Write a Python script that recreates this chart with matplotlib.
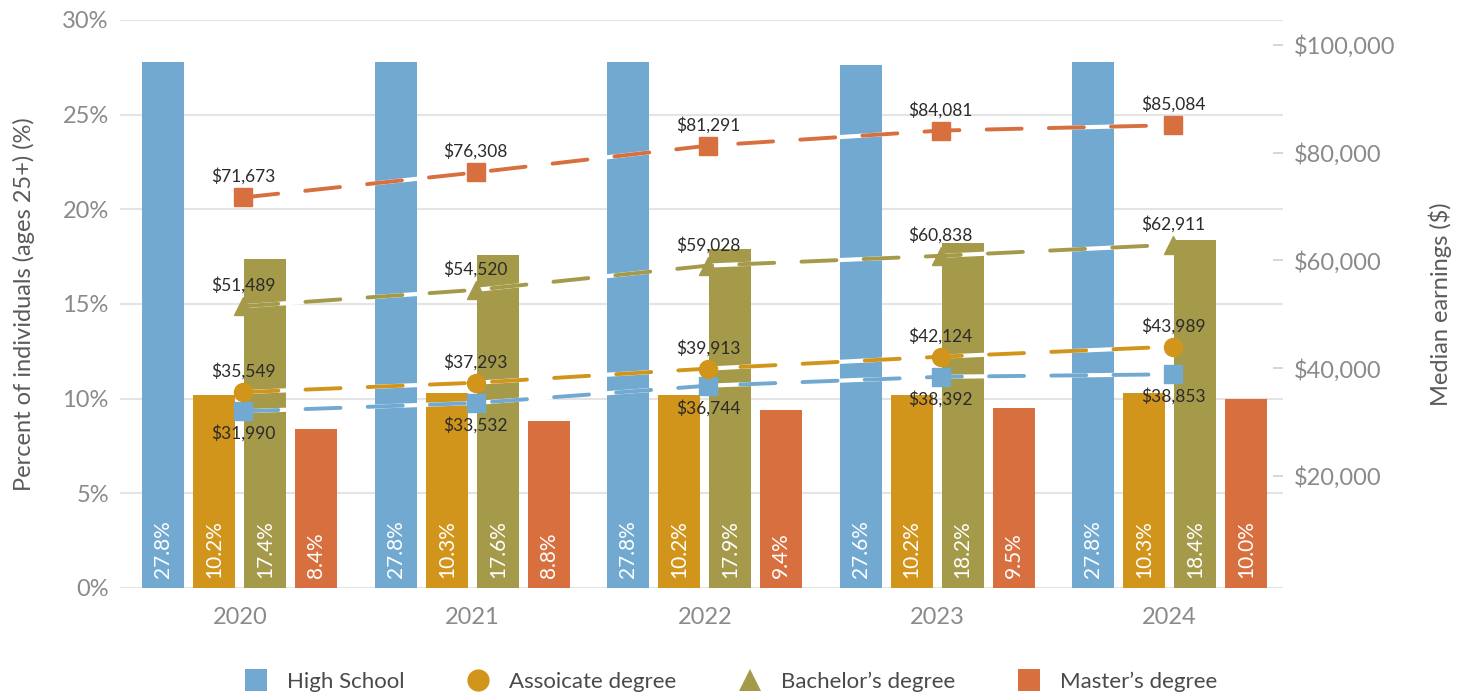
import numpy as np
import matplotlib.pyplot as plt
from matplotlib.lines import Line2D

plt.rcParams["font.family"] = ["Lato", "DejaVu Sans"]

years = ["2020", "2021", "2022", "2023", "2024"]
series = ["High School", "Assoicate degree", "Bachelor\u2019s degree", "Master\u2019s degree"]

share_hs = [27.8, 27.8, 27.8, 27.6, 27.8]
share_assoc = [10.2, 10.3, 10.2, 10.2, 10.3]
share_bach = [17.4, 17.6, 17.9, 18.2, 18.4]
share_master = [8.4, 8.8, 9.4, 9.5, 10.0]

earn_hs = [31990, 33532, 36744, 38392, 38853]
earn_assoc = [35549, 37293, 39913, 42124, 43989]
earn_bach = [51489, 54520, 59028, 60838, 62911]
earn_master = [71673, 76308, 81291, 84081, 85084]

COLORS = ["#72a9d0", "#d2951b", "#a59a49", "#d76f3f"]
MARKERS = ["s", "o", "^", "s"]
TICK_GRAY = "#8a8a8a"
LABEL_GRAY = "#5a5a5a"
TEXT_DARK = "#2b2b2b"

shares = [share_hs, share_assoc, share_bach, share_master]
earnings = [earn_hs, earn_assoc, earn_bach, earn_master]

fig = plt.figure(figsize=(14.68, 6.92), dpi=100)
ax = fig.add_axes([0.0817, 0.1503, 0.7923, 0.8208])
ax2 = ax.twinx()

x = np.arange(len(years))
width = 0.181
step = 0.2195

for i, (vals, color) in enumerate(zip(shares, COLORS)):
    pos = x + (i - 1.5) * step
    ax.bar(pos, vals, width=width, color=color, zorder=2)
    for p, v in zip(pos, vals):
        ax.text(p, 0.55, f"{v:.1f}%", rotation=90, ha="center", va="bottom",
                color="white", fontsize=15, zorder=3)

ax.set_ylim(0, 30)
ax.set_yticks(np.arange(0, 31, 5))
ax.set_yticklabels([f"{t}%" for t in range(0, 31, 5)])
ax.set_xlim(-0.516, 4.488)
ax.set_xticks(x)
ax.set_xticklabels(years)
ax.grid(axis="y", color="#e4e4e4", linewidth=1.5, zorder=0)
ax.set_axisbelow(True)
ax.tick_params(axis="both", length=0, colors=TICK_GRAY, labelsize=17, pad=8)
ax.tick_params(axis="x", pad=14)
ax.set_ylabel("Percent of individuals (ages 25+) (%)", fontsize=17,
              color=LABEL_GRAY, labelpad=20)

# earnings lines sit on the right axis, with a thin white halo under the dashes
mx = x + 0.015
for i, (vals, color, marker) in enumerate(zip(earnings, COLORS, MARKERS)):
    ax2.plot(mx, vals, color="white", linewidth=3.0, zorder=3,
             solid_capstyle="round")
    ax2.plot(mx, vals, color=color, linewidth=2.8, linestyle=(0, (9, 7)),
             dash_capstyle="round", marker=marker, markersize=13, zorder=4)
    offset = -16 if i == 0 else 15
    for xi, v in zip(mx, vals):
        ax2.annotate(f"${v:,.0f}", (xi, v), xytext=(0, offset),
                     textcoords="offset points", ha="center", va="center",
                     fontsize=12.5, color=TEXT_DARK, zorder=5)

ax2.set_ylim(-800, 104600)
ax2.set_yticks([20000, 40000, 60000, 80000, 100000])
ax2.set_yticklabels([f"${t:,.0f}" for t in [20000, 40000, 60000, 80000, 100000]])
ax2.tick_params(axis="y", direction="in", length=7, width=1.2, color="#cfcfcf",
                labelcolor=TICK_GRAY, labelsize=17, pad=8)
ax2.set_ylabel("Median earnings ($)", fontsize=17, color=LABEL_GRAY, labelpad=24)

for a in (ax, ax2):
    for spine in a.spines.values():
        spine.set_visible(False)

handles = [
    Line2D([], [], linestyle="none", marker=m, markersize=16, color=c,
           markeredgewidth=0)
    for m, c in zip(MARKERS, COLORS)
]
fig.legend(handles, series, loc="center", bbox_to_anchor=(0.498, 0.015),
           ncol=4, frameon=False, fontsize=16, labelcolor="#4a4a4a",
           handletextpad=0.9, columnspacing=2.8, handlelength=1.0)

fig.savefig("out.png", dpi=100)
